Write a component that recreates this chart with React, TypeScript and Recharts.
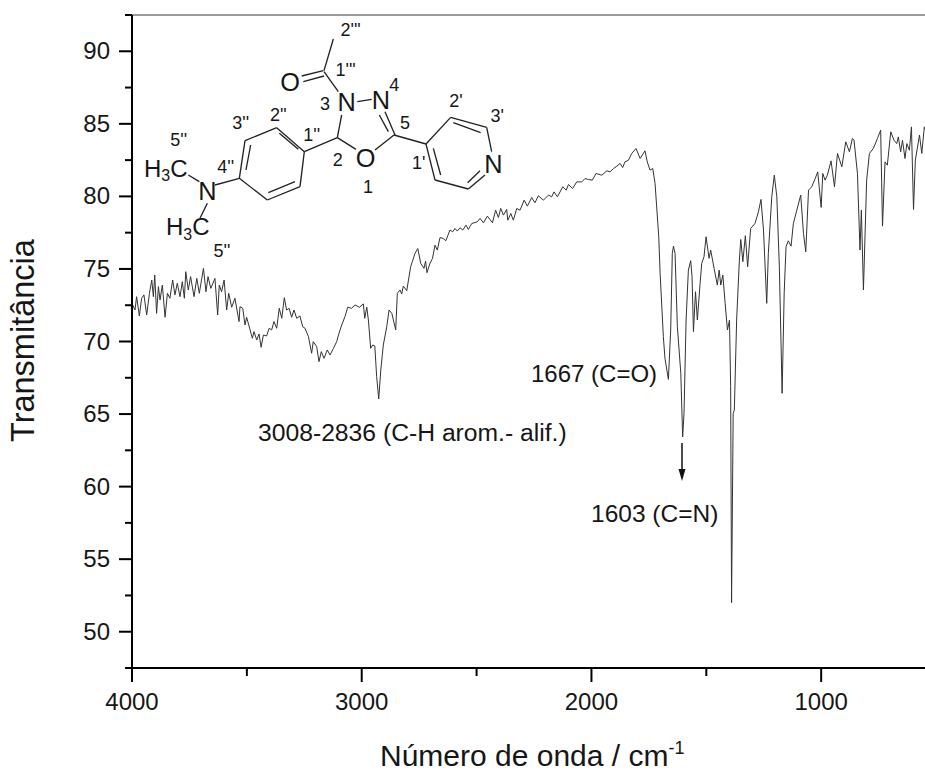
import { LineChart, Line, XAxis, YAxis, ReferenceLine } from 'recharts'

const wavenumbers = [
  3997, 3987, 3980, 3968, 3958, 3948, 3936, 3924, 3914, 3907, 3901, 3893, 3885, 3878, 3868, 3856, 3846, 3835, 3823, 3813,
  3803, 3791, 3781, 3772, 3766, 3755, 3745, 3730, 3718, 3707, 3689, 3678, 3669, 3657, 3639, 3627, 3620, 3610, 3599, 3588,
  3579, 3566, 3552, 3534, 3530, 3518, 3508, 3501, 3486, 3476, 3469, 3457, 3447, 3438, 3428, 3414, 3403, 3392, 3382, 3370,
  3359, 3348, 3337, 3327, 3316, 3305, 3295, 3283, 3269, 3257, 3247, 3232, 3218, 3211, 3196, 3186, 3176, 3164, 3150, 3138,
  3123, 3109, 3099, 3087, 3073, 3061, 3044, 3029, 3010, 2993, 2987, 2978, 2971, 2961, 2952, 2943, 2935, 2926, 2917, 2906,
  2891, 2881, 2869, 2852, 2845, 2833, 2826, 2819, 2804, 2787, 2780, 2768, 2756, 2743, 2729, 2722, 2716, 2703, 2692, 2681,
  2671, 2659, 2645, 2634, 2616, 2604, 2594, 2584, 2572, 2560, 2546, 2536, 2521, 2497, 2485, 2470, 2453, 2431, 2417, 2405,
  2395, 2383, 2369, 2364, 2351, 2340, 2325, 2311, 2293, 2279, 2260, 2246, 2231, 2209, 2187, 2173, 2163, 2148, 2125, 2110,
  2100, 2082, 2064, 2042, 2028, 2013, 1996, 1980, 1955, 1933, 1919, 1904, 1893, 1875, 1864, 1854, 1839, 1825, 1806, 1788,
  1767, 1757, 1745, 1733, 1723, 1716, 1707, 1701, 1687, 1680, 1665, 1655, 1648, 1643, 1636, 1626, 1611, 1603, 1597, 1588,
  1578, 1568, 1562, 1556, 1547, 1539, 1527, 1520, 1510, 1501, 1488, 1481, 1466, 1452, 1444, 1437, 1428, 1418, 1408, 1399,
  1394, 1390, 1383, 1378, 1368, 1356, 1350, 1341, 1330, 1320, 1307, 1288, 1273, 1262, 1251, 1237, 1230, 1215, 1204, 1193,
  1182, 1170, 1161, 1153, 1143, 1131, 1121, 1106, 1089, 1077, 1067, 1055, 1041, 1026, 1015, 1000, 993, 983, 973, 957,
  942, 929, 910, 893, 877, 864, 857, 842, 831, 825, 816, 802, 790, 773, 755, 741, 733, 722, 712, 697,
  683, 671, 664, 654, 646, 635, 627, 616, 607, 598, 590, 572, 562, 551, 548,
]

const transmittance = [
  72.52, 72.17, 73.09, 71.76, 72.98, 73.21, 71.83, 73.32, 74.24, 73.09, 74.58, 71.94, 73.78, 72.86, 73.89, 71.67, 73.32, 72.98, 74.24, 73.21,
  74.01, 73.09, 74.12, 72.98, 74.81, 73.55, 74.47, 73.09, 74.35, 73.32, 75.04, 73.43, 74.47, 73.66, 74.35, 71.83, 73.89, 73.43, 74.24, 72.17,
  73.32, 72.36, 72.98, 71.37, 72.4, 72.29, 71.14, 71.67, 70.8, 70.22, 70.68, 70.11, 70.52, 69.6, 70.45, 70.38, 70.91, 70.8, 71.37, 70.91,
  72.29, 71.6, 73.02, 72.17, 72.29, 71.67, 72.17, 71.6, 71.76, 71.02, 70.91, 70.34, 69.19, 69.99, 69.65, 68.61, 69.3, 68.84, 69.42, 69.07,
  69.53, 69.99, 70.57, 71.14, 71.71, 72.36, 72.29, 72.52, 72.36, 72.59, 71.6, 72.36, 71.48, 69.53, 69.76, 69.69, 67.58, 66.04, 68.04, 69.76,
  71.02, 72.17, 71.94, 70.8, 73.32, 73.55, 73.27, 73.82, 73.5, 75.15, 75.49, 76.07, 76.41, 75.38, 75.04, 75.54, 74.74, 75.38, 75.72, 76.64,
  76.3, 77.17, 77.1, 76.94, 77.68, 77.56, 77.79, 77.61, 77.84, 77.68, 78.02, 77.72, 78.13, 78.25, 78.48, 78.18, 78.64, 78.18, 79.05, 78.55,
  79.17, 78.71, 79.1, 78.36, 78.82, 78.36, 79.17, 79.05, 79.74, 79.33, 79.92, 79.56, 80.04, 79.74, 80.09, 79.97, 80.31, 79.97, 80.66, 80.43,
  80.82, 80.54, 81.0, 81.0, 81.23, 81.16, 81.12, 81.58, 81.46, 81.76, 81.69, 81.92, 82.04, 82.27, 81.99, 82.38, 82.49, 82.95, 83.3, 82.61,
  83.14, 82.38, 81.81, 81.92, 80.89, 79.28, 77.22, 74.69, 70.33, 68.84, 67.39, 70.79, 76.07, 76.57, 76.07, 71.02, 67.81, 63.42, 65.05, 71.48,
  74.92, 75.57, 74.46, 70.68, 73.43, 71.48, 74.0, 75.38, 75.84, 77.22, 75.73, 76.3, 75.04, 73.89, 74.92, 73.89, 74.58, 72.63, 70.79, 71.48,
  66.89, 52.0, 65.05, 65.28, 71.48, 75.61, 77.03, 75.5, 77.29, 75.15, 77.79, 78.14, 78.94, 79.79, 77.68, 72.63, 76.07, 79.97, 81.46, 79.97,
  75.15, 66.43, 73.32, 76.53, 76.94, 76.57, 78.14, 79.05, 80.09, 77.45, 76.18, 80.43, 80.66, 81.23, 81.69, 79.24, 81.58, 81.12, 81.46, 82.45,
  80.66, 82.96, 82.04, 83.76, 83.07, 83.99, 83.87, 81.58, 76.3, 79.05, 73.55, 81.12, 82.96, 83.3, 83.99, 84.56, 77.95, 82.38, 82.15, 84.45,
  83.87, 83.64, 84.1, 83.07, 83.87, 82.61, 83.64, 83.18, 84.79, 79.1, 82.5, 84.22, 82.96, 84.79, 84.6,
]

const xTicks = [4000, 3500, 3000, 2500, 2000, 1500, 1000]
const xLabelled = [4000, 3000, 2000, 1000]
const yTicks = [47.5, 50, 52.5, 55, 57.5, 60, 62.5, 65, 67.5, 70, 72.5, 75, 77.5, 80, 82.5, 85, 87.5, 90, 92.5]
const yLabelled = [50, 55, 60, 65, 70, 75, 80, 85, 90]

const spectrum = wavenumbers.map((wn, i) => ({ wn, t: transmittance[i] }))

const font = '"Liberation Sans", Arial, sans-serif'
const ink = '#161616'

function XTick({ x, y, payload }: any) {
  const major = xLabelled.includes(payload.value)
  return (
    <g>
      <line x1={x} x2={x} y1={y} y2={y + (major ? 14 : 8)} stroke="#000" strokeWidth={2} />
      {major && (
        <text x={x} y={y + 42} textAnchor="middle" fontSize={24} fontFamily={font} fill={ink}>
          {payload.value}
        </text>
      )}
    </g>
  )
}

function YTick({ x, y, payload }: any) {
  const major = yLabelled.includes(payload.value)
  return (
    <g>
      <line x1={x - (major ? 13 : 7)} x2={x} y1={y} y2={y} stroke="#000" strokeWidth={2} />
      {major && (
        <text x={x - 22} y={y + 8} textAnchor="end" fontSize={24} fontFamily={font} fill={ink}>
          {payload.value}
        </text>
      )}
    </g>
  )
}

// molecule, drawn in a 3x space so it lines up with the zoomed reference
const bonds = [
  [640, 117, 612, 212], [545, 228, 610, 212], [550, 245, 612, 228], [612, 215, 655, 275], [712, 305, 755, 298],
  [795, 335, 825, 405], [778, 345, 805, 395], [665, 345, 652, 413], [652, 413, 708, 448], [765, 450, 822, 405],
  [822, 405, 918, 432], [918, 432, 992, 352], [992, 352, 1100, 382], [1000, 368, 1082, 398], [1100, 382, 1115, 455],
  [1095, 525, 1045, 567], [1080, 512, 1043, 548], [1045, 567, 945, 540], [918, 432, 945, 540], [940, 445, 962, 525],
  [553, 455, 652, 413], [553, 455, 470, 383], [470, 383, 375, 422], [375, 422, 358, 535], [358, 535, 442, 600],
  [442, 600, 540, 560], [540, 560, 553, 455], [478, 400, 535, 448], [392, 435, 378, 510], [445, 578, 525, 545],
  [285, 555, 358, 535], [205, 525, 238, 545], [262, 610, 240, 655],
]

const atoms = [
  ['O', 510, 272], ['N', 680, 334], ['N', 783, 327], ['O', 737, 502], ['N', 1120, 519], ['N', 262, 599],
]

const positions = [
  ["2'''", 692, 107], ["1'''", 677, 228], ['4', 823, 272], ['3', 615, 330], ['5', 855, 387], ["2'", 1008, 322],
  ["3'", 1132, 367], ["1'", 896, 508], ['2', 653, 498], ['1', 744, 578], ["1''", 575, 423], ["2''", 475, 362],
  ["3''", 362, 388], ["4''", 317, 518], ["5''", 176, 438], ["5''", 306, 772],
]

function Overlay() {
  return (
    <svg width={925} height={771} style={{ position: 'absolute', left: 0, top: 0, pointerEvents: 'none' }} fontFamily={font} fill={ink}>
      <g transform="translate(120 0) scale(0.33333)">
        {bonds.map(([x1, y1, x2, y2], i) => (
          <line key={i} x1={x1} y1={y1} x2={x2} y2={y2} stroke="#222" strokeWidth={4} />
        ))}
        {atoms.map(([s, x, y], i) => (
          <text key={i} x={x} y={y} textAnchor="middle" fontSize={76}>{s}</text>
        ))}
        {positions.map(([s, x, y], i) => (
          <text key={i} x={x} y={y} textAnchor="middle" fontSize={54}>{s}</text>
        ))}
        <text x={72} y={530} fontSize={72}>H<tspan fontSize={48} dy={14}>3</tspan><tspan dy={-14}>C</tspan></text>
        <text x={138} y={705} fontSize={72}>H<tspan fontSize={48} dy={14}>3</tspan><tspan dy={-14}>C</tspan></text>
      </g>
      <text x={531} y={382} fontSize={24}>1667 (C=O)</text>
      <text x={258} y={441} fontSize={24.7}>3008-2836 (C-H arom.- alif.)</text>
      <text x={591} y={522} fontSize={24.5}>1603 (C=N)</text>
      <line x1={682} y1={443} x2={682} y2={470} stroke="#111" strokeWidth={1.5} />
      <polygon points="678.5,469 685.5,469 682,481" fill="#111" />
      <text x={380} y={766} fontSize={30}>
        Número de onda / cm<tspan fontSize={18} dy={-12}>-1</tspan>
      </text>
      <text transform="translate(34 442) rotate(-90)" fontSize={32.5}>Transmitância</text>
    </svg>
  )
}

export default function App() {
  return (
    <div style={{ position: 'absolute', left: 0, top: 0, width: 925, height: 771, background: '#fff' }}>
      <LineChart width={925} height={771} data={spectrum} margin={{ top: 15, right: 0, bottom: 0, left: 0 }}>
        <XAxis
          dataKey="wn"
          type="number"
          reversed
          domain={[548, 4000]}
          ticks={xTicks}
          interval={0}
          height={103}
          tickSize={0}
          tickMargin={0}
          tick={<XTick />}
          axisLine={{ stroke: '#000', strokeWidth: 2 }}
          tickLine={false}
        />
        <YAxis
          type="number"
          domain={[47.5, 92.5]}
          ticks={yTicks}
          interval={0}
          width={132}
          tickSize={0}
          tickMargin={0}
          tick={<YTick />}
          axisLine={{ stroke: '#000', strokeWidth: 2 }}
          tickLine={false}
        />
        <ReferenceLine y={92.5} stroke="#9a9a9a" strokeWidth={2} />
        <Line dataKey="t" type="linear" stroke="#333" strokeWidth={1} dot={false} isAnimationActive={false} />
      </LineChart>
      <Overlay />
    </div>
  )
}
